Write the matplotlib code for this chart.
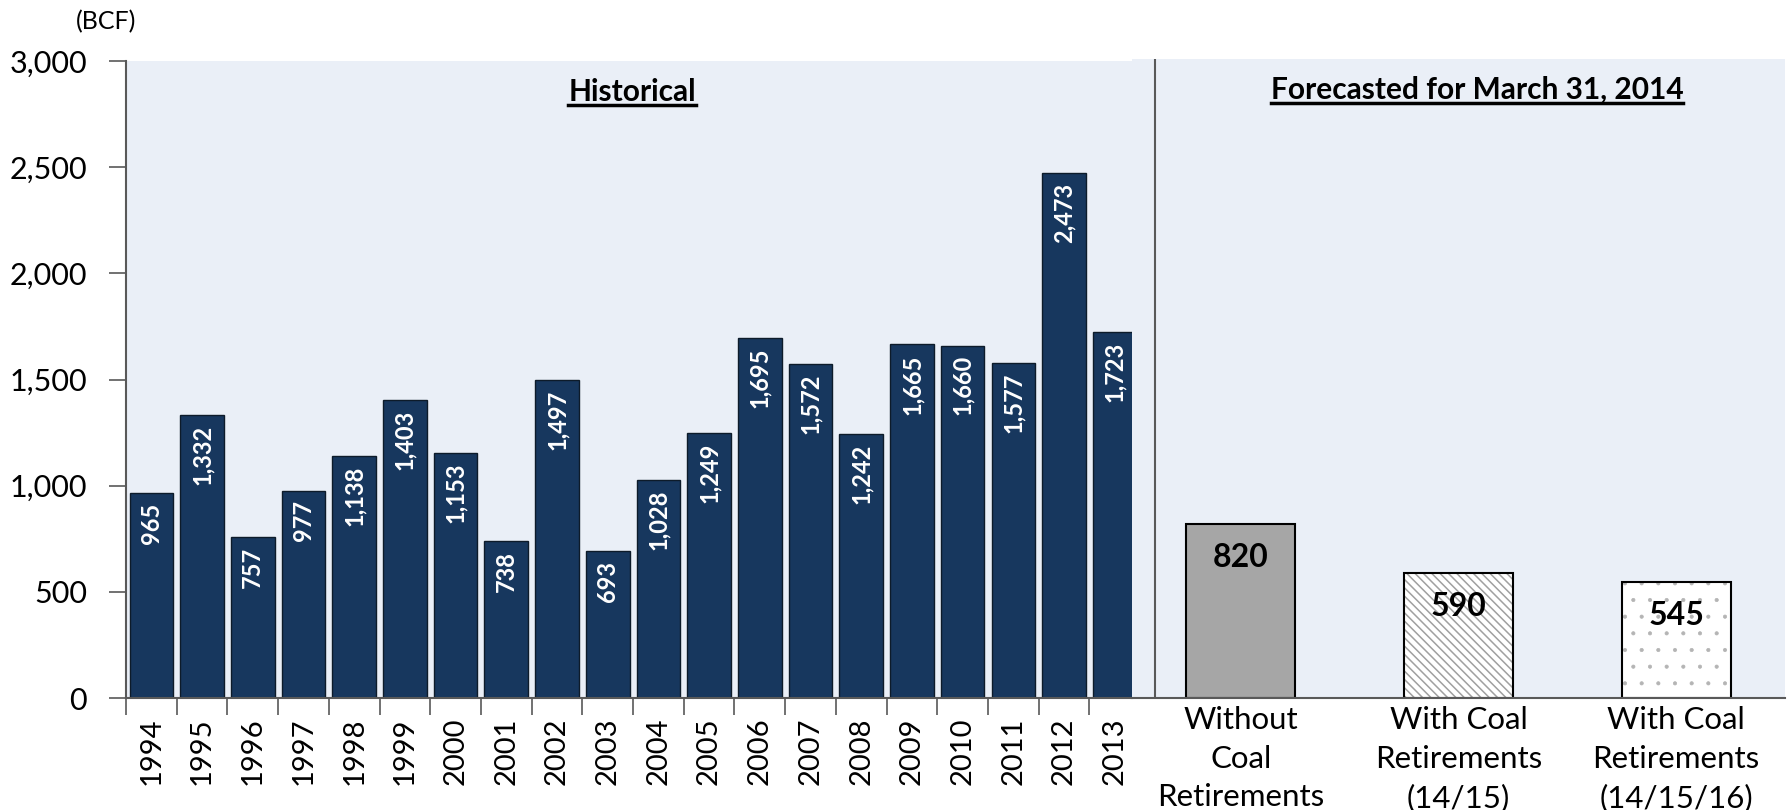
import numpy as np
import matplotlib.pyplot as plt
from matplotlib.lines import Line2D
from matplotlib.ticker import StrMethodFormatter

plt.rcParams['font.family'] = ['Lato', 'DejaVu Sans']
plt.rcParams['hatch.linewidth'] = 1.1

years = [str(y) for y in range(1994, 2014)]
storage = [965, 1332, 757, 977, 1138, 1403, 1153, 738, 1497, 693,
           1028, 1249, 1695, 1572, 1242, 1665, 1660, 1577, 2473, 1723]

scenarios = ['Without\nCoal\nRetirements',
             'With Coal\nRetirements\n(14/15)',
             'With Coal\nRetirements\n(14/15/16)']
forecast = [820, 590, 545]

y_ticks = [0, 500, 1000, 1500, 2000, 2500, 3000]

BG = '#EAEFF7'
NAVY = '#17375E'
SPINE = '#595959'

W, H = 1789, 810
fig = plt.figure(figsize=(W / 100, H / 100), dpi=100)


def px_box(left, top, right, bottom):
    return [left / W, 1 - bottom / H, (right - left) / W, (bottom - top) / H]


def set_hatch_lw(bars, lw):
    for p in bars:
        if hasattr(p, 'set_hatch_linewidth'):
            p.set_hatch_linewidth(lw)


ax = fig.add_axes(px_box(126, 61, 1132, 698))
ax2 = fig.add_axes(px_box(1132, 59, 1785, 698))

# historical bars
x = np.arange(len(years))
ax.set_facecolor(BG)
ax.bar(x, storage, width=0.86, color=NAVY, edgecolor='#0d1b2a', linewidth=1)
for xi, v in zip(x, storage):
    ax.annotate(f'{v:,}', (xi, v), xytext=(0, -7), textcoords='offset points',
                rotation=90, ha='center', va='top', color='white',
                fontsize=17, fontweight='bold')
ax.set_xlim(-0.5, 19.34)
ax.set_ylim(0, 3000)
ax.set_yticks(y_ticks)
ax.yaxis.set_major_formatter(StrMethodFormatter('{x:,.0f}'))
ax.set_xticks(x)
ax.set_xticklabels(years, rotation=90)
ax.set_xticks(np.arange(-0.5, 19.5, 1), minor=True)
ax.tick_params(axis='x', which='major', length=0, pad=14, labelsize=21)
ax.tick_params(axis='x', which='minor', length=12, width=1.2, color=SPINE)
ax.tick_params(axis='y', length=12, width=1.2, color=SPINE, pad=16, labelsize=22)
for s in ['top', 'right']:
    ax.spines[s].set_visible(False)
for s in ['left', 'bottom']:
    ax.spines[s].set_color(SPINE)
    ax.spines[s].set_linewidth(1.5)

# forecast bars
xf = np.arange(len(scenarios))
ax2.set_facecolor(BG)
ax2.set_xlim(-0.5, 2.5)
ax2.set_ylim(0, 3000 * (698 - 59) / (698 - 61))
ax2.bar(xf[0], forecast[0], width=0.5, color='#A6A6A6', linewidth=0)
b2 = ax2.bar(xf[1], forecast[1], width=0.5, color='white', edgecolor='#A0A0A0',
             hatch='\\\\\\\\', linewidth=0)
b3 = ax2.bar(xf[2], forecast[2], width=0.5, color='white', edgecolor='#B4B4B4',
             hatch='.', linewidth=0)
set_hatch_lw(b3, 0.5)
ax2.bar(xf, forecast, width=0.5, color='none', edgecolor='black', linewidth=1.5)
for xi, v in zip(xf, forecast):
    ax2.annotate(f'{v:,}', (xi, v), xytext=(0, -24), textcoords='offset points',
                 ha='center', va='center', color='black',
                 fontsize=23, fontweight='bold')
ax2.axvline(-0.395, color=SPINE, linewidth=1.5)
ax2.set_xticks(xf)
ax2.set_xticklabels(scenarios, linespacing=1.45)
ax2.set_yticks([])
ax2.tick_params(axis='x', length=0, pad=6, labelsize=22.5)
for s in ['top', 'right', 'left']:
    ax2.spines[s].set_visible(False)
ax2.spines['bottom'].set_color(SPINE)
ax2.spines['bottom'].set_linewidth(1.5)

# headings, underlined
t1 = fig.text(632 / W, 1 - 92 / H, 'Historical', ha='center', va='center',
              fontsize=21.5, fontweight='bold')
t2 = fig.text(1477 / W, 1 - 90 / H, 'Forecasted for March 31, 2014', ha='center',
              va='center', fontsize=21.5, fontweight='bold')
fig.text(76 / W, 1 - 22 / H, '(BCF)', ha='left', va='center', fontsize=18)

fig.canvas.draw()
renderer = fig.canvas.get_renderer()
for t in [t1, t2]:
    bb = t.get_window_extent(renderer)
    yline = bb.y0 + 1
    fig.add_artist(Line2D([bb.x0 / W, bb.x1 / W], [yline / H, yline / H],
                          transform=fig.transFigure, color='black', linewidth=2.5))

fig.savefig('out.png', dpi=100)
